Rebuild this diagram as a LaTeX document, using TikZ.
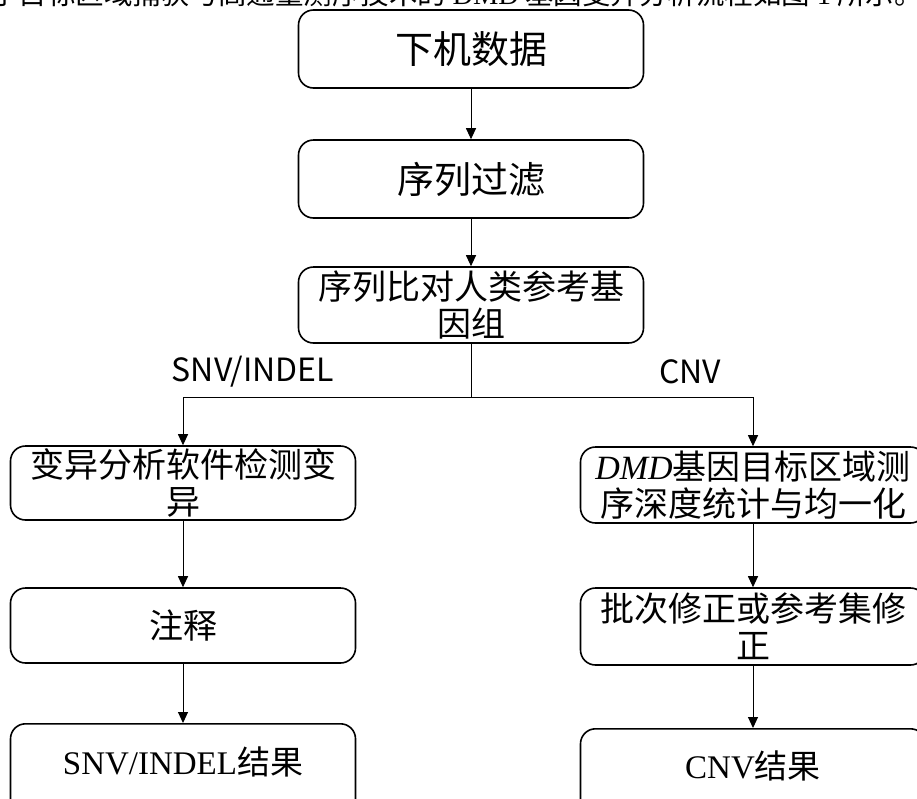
\documentclass[tikz,border=0pt]{standalone}
\usepackage{fontspec}
\usepackage{graphicx}
\setmainfont{Liberation Serif}
\newfontfamily\cjk{Noto Sans CJK SC}
\usetikzlibrary{arrows.meta}
\tikzset{
  stepbox/.style={draw=black, line width=1.6pt, rounded corners=15pt, minimum width=345pt, inner sep=0pt, align=center, font=\cjk\fontsize{34}{37}\selectfont},
  flow/.style={draw=black, line width=1pt, -{Triangle[length=11pt,width=10pt]}},
  plain/.style={draw=black, line width=1pt},
  branchlabel/.style={font=\cjk\fontsize{32}{36}\selectfont, inner sep=0pt}
}
\begin{document}
\begin{tikzpicture}[x=1pt,y=-1pt]
\useasboundingbox (0,0) rectangle (917,798);
\clip (0,0) rectangle (917,798);
\fill[white] (0,0) rectangle (917,798);
% clipped line of running text at top (cut off in the reference as well)
\node[font=\cjk\fontsize{28.5}{30}\selectfont, inner sep=0pt, anchor=west] (toptext) at (-10,-6) {于目标区域捕获与高通量测序技术的 {\rmfamily DMD} 基因变异分析流程如图 {\rmfamily 1} 所示。};
% main column
\node[stepbox, minimum height=78pt] (b1) at (471,49) {\fontsize{38}{40}\selectfont 下机数据};
\node[stepbox, minimum height=78pt] (b2) at (471,179) {\fontsize{37}{40}\selectfont 序列过滤};
\node[stepbox, minimum height=76pt] (b3) at (471,305) {序列比对人类参考基\\因组};
% left column
\node[stepbox, minimum height=74pt] (l1) at (183,483) {变异分析软件检测变\\异};
\node[stepbox, minimum height=75pt] (l2) at (183,625.5) {注释};
\node[stepbox, minimum height=90pt, anchor=north] (l3) at (183,723) {};
\node[font=\fontsize{33}{36}\selectfont, inner sep=0pt] (l3t) at (183,762) {SNV/INDEL{\cjk 结果}};
% right column
\node[stepbox, minimum height=76pt] (r1) at (753,485) {{\rmfamily\itshape DMD}基因目标区域测\\序深度统计与均一化};
\node[stepbox, minimum height=77pt] (r2) at (753,626.5) {批次修正或参考集修\\正};
\node[stepbox, minimum height=90pt, anchor=north] (r3) at (753,728) {};
\node[font=\fontsize{33}{36}\selectfont, inner sep=0pt] (r3t) at (753,766) {CNV{\cjk 结果}};
% branch labels
\node[branchlabel] (snv) at (253,372) {SNV/INDEL};
\node[branchlabel] (cnv) at (690,372) {CNV};
% connectors
\coordinate (split) at (471,397);
\coordinate (splitl) at (183,397);
\coordinate (splitr) at (753,397);
\draw[flow] (b1.south) -- (b2.north);
\draw[flow] (b2.south) -- (b3.north);
\draw[plain] (b3.south) -- (split);
\draw[plain] (splitl) -- (splitr);
\draw[flow] (splitl) -- (l1.north);
\draw[flow] (splitr) -- (r1.north);
\draw[flow] (l1.south) -- (l2.north);
\draw[flow] (l2.south) -- (l3.north);
\draw[flow] (r1.south) -- (r2.north);
\draw[flow] (r2.south) -- (r3.north);
\end{tikzpicture}
\end{document}
